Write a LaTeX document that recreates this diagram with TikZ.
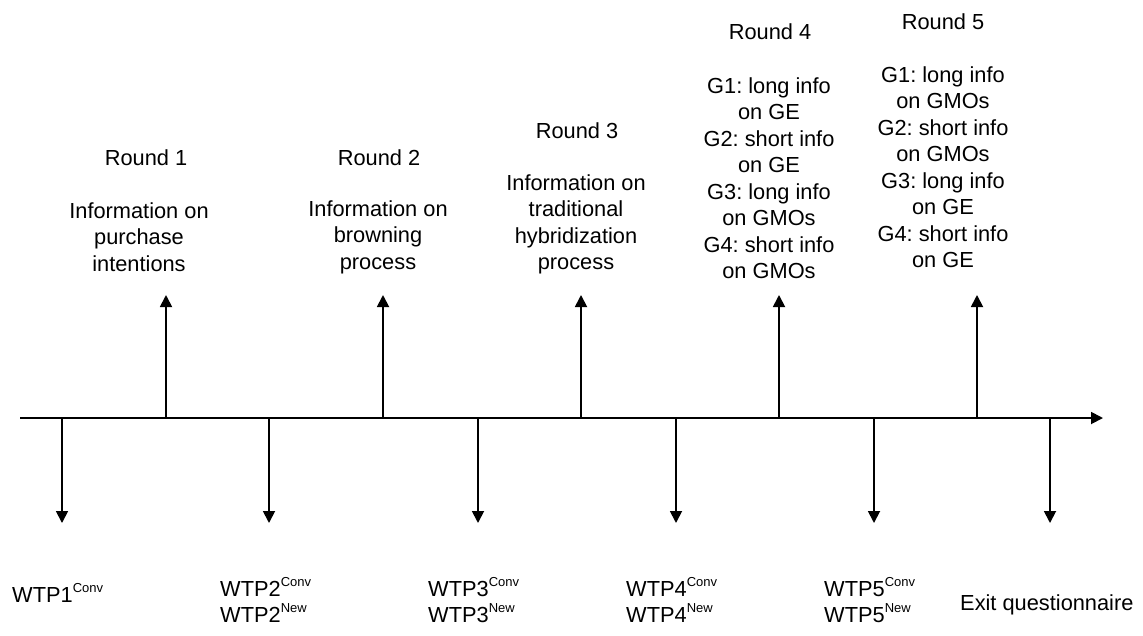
\documentclass[tikz,border=0pt]{standalone}
\usepackage{fontspec}
\setmainfont{Liberation Sans}
\usetikzlibrary{arrows.meta}
\frenchspacing
\newcommand\upx[1]{\raisebox{0.45em}{\fontsize{13}{13}\selectfont #1}}
\tikzset{
  lbl/.style={font=\fontsize{21.8}{26.5}\selectfont, align=center, inner sep=0pt},
  lblL/.style={font=\fontsize{21.8}{26.5}\selectfont, align=left, inner sep=0pt, anchor=west},
  arr/.style={line width=1.8pt, -{Triangle[width=12pt,length=12pt]}},
  axisline/.style={line width=1.8pt, -{Triangle[width=12pt,length=12pt]}}
}
\begin{document}
\begin{tikzpicture}[x=1pt,y=-1pt]
\useasboundingbox (0,0) rectangle (1143,635);
% axis
\coordinate (ax0) at (20,418);
\coordinate (ax1) at (1103,418);
\draw[axisline] (ax0) -- (ax1);
% up arrows
\foreach \n/\x in {1/166,2/383,3/581,4/779,5/977}{
  \coordinate (ua\n) at (\x,418);
  \coordinate (ut\n) at (\x,295);
  \draw[arr] (ua\n) -- (ut\n);
}
% down arrows
\foreach \n/\x in {1/62,2/269,3/478,4/676,5/874,6/1050}{
  \coordinate (da\n) at (\x,418);
  \coordinate (dt\n) at (\x,523);
  \draw[arr] (da\n) -- (dt\n);
}
% top labels
\node[lbl] (r1) at (146,158) {Round 1};
\node[lbl] (i1) at (139,237) {Information on\\purchase\\intentions};
\node[lbl] (r2) at (379,158) {Round 2};
\node[lbl] (i2) at (378,237) {Information on\\browning\\process};
\node[lbl] (r3) at (577,131) {Round 3};
\node[lbl] (i3) at (576,224.5) {Information on\\traditional\\hybridization\\process};
\node[lbl] (r4) at (770,32) {Round 4};
\node[lbl] (i4) at (769,178) {G1: long info\\on GE\\G2: short info\\on GE\\G3: long info\\on GMOs\\G4: short info\\on GMOs};
\node[lbl] (r5) at (943,22) {Round 5};
\node[lbl] (i5) at (943,167) {G1: long info\\on GMOs\\G2: short info\\on GMOs\\G3: long info\\on GE\\G4: short info\\on GE};
% bottom labels
\node[lblL] (w1) at (12,593) {WTP1\upx{Conv}};
\node[lblL] (w2) at (220,600) {WTP2\upx{Conv}\\WTP2\upx{New}};
\node[lblL] (w3) at (428,600) {WTP3\upx{Conv}\\WTP3\upx{New}};
\node[lblL] (w4) at (626,600) {WTP4\upx{Conv}\\WTP4\upx{New}};
\node[lblL] (w5) at (824,600) {WTP5\upx{Conv}\\WTP5\upx{New}};
\node[lblL] (ex) at (960,605) {Exit questionnaire};
\end{tikzpicture}
\end{document}
